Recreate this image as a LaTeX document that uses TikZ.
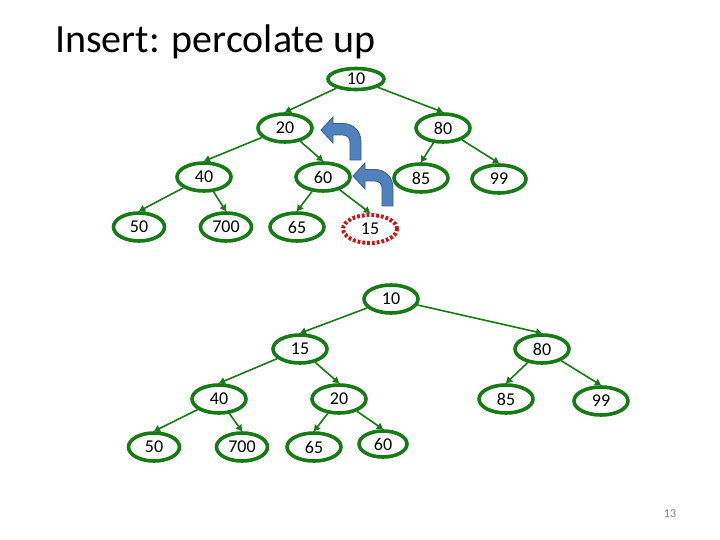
\documentclass[tikz,border=0pt]{standalone}
\usepackage{fontspec}
\setmainfont{Carlito}
\usetikzlibrary{shapes.geometric,arrows.meta}
\definecolor{tgreen}{RGB}{22,122,22}
\definecolor{ublue}{RGB}{79,129,189}
\definecolor{ubluedark}{RGB}{56,93,138}
\definecolor{dred}{RGB}{204,18,18}
\newcommand{\myUturn}{%
  \filldraw[fill=ublue,draw=ubluedark,line width=0.8pt]
   (361,160) -- (361,142) .. controls (361,131) and (353,123.5) .. (343,123.5)
   -- (333,123.5) -- (333,117) -- (321,130) -- (333,143) -- (333,135) -- (343,135)
   .. controls (347,135) and (350,138) .. (350,142) -- (350,160) -- cycle;}
\begin{document}
\begin{tikzpicture}[x=1pt,y=-1pt,
  hn/.style={ellipse,draw=tgreen,line width=3.6pt,minimum width=54pt,minimum height=28pt,inner sep=0pt,font=\fontsize{18}{21}\selectfont},
  newn/.style={ellipse,draw=dred,line width=4pt,dash pattern=on 2.8pt off 2pt,minimum width=54pt,minimum height=28pt,inner sep=0pt,font=\fontsize{18}{21}\selectfont},
  ed/.style={draw=tgreen,line width=1.6pt,-{Triangle[width=7pt,length=6pt]}}]
\useasboundingbox (0,0) rectangle (720,540);
\fill[white] (0,0) rectangle (720,540);
\node[anchor=base west,inner sep=0pt,font=\fontsize{40}{46}\selectfont] (title) at (55,53) {Insert: percolate up};
% top tree
\node[hn,minimum width=56pt,minimum height=21pt] (a10) at (356,79) {10};
\node[hn] (a20) at (285,128) {20};
\node[hn] (a80) at (443,128) {80};
\node[hn] (a40) at (204,177) {40};
\node[hn] (a60) at (323,177) {60};
\node[hn] (a85) at (421,178) {85};
\node[hn] (a99) at (499,179) {99};
\node[hn,minimum width=51pt] (a50) at (139,227) {50};
\node[hn,minimum width=51pt] (a700) at (226,227) {700};
\node[hn] (a65) at (297,227) {65};
\node[newn] (a15) at (370,229) {15};
\foreach \p/\c in {a10/a20,a10/a80,a20/a40,a20/a60,a40/a50,a40/a700,a60/a65,a60/a15,a80/a85,a80/a99}
  \draw[ed] (\p) -- (\c.north);
\myUturn
\begin{scope}[shift={(32,46)}]
\myUturn
\end{scope}
% bottom tree
\node[hn] (b10) at (391,299) {10};
\node[hn] (b15) at (300,349) {15};
\node[hn] (b80) at (542,349) {80};
\node[hn] (b40) at (219,399) {40};
\node[hn] (b20) at (339,399) {20};
\node[hn] (b85) at (506,399) {85};
\node[hn] (b99) at (601,401) {99};
\node[hn,minimum width=51pt] (b50) at (154,447) {50};
\node[hn,minimum width=51pt] (b700) at (242,447) {700};
\node[hn] (b65) at (314,447) {65};
\node[hn,minimum width=48pt,minimum height=26pt] (b60) at (383,444) {60};
\foreach \p/\c in {b10/b15,b10/b80,b15/b40,b15/b20,b40/b50,b40/b700,b20/b65,b20/b60,b80/b85,b80/b99}
  \draw[ed] (\p) -- (\c.north);
\node[text=gray,font=\fontsize{12}{14}\selectfont] (pg) at (670,514) {13};
\end{tikzpicture}
\end{document}
